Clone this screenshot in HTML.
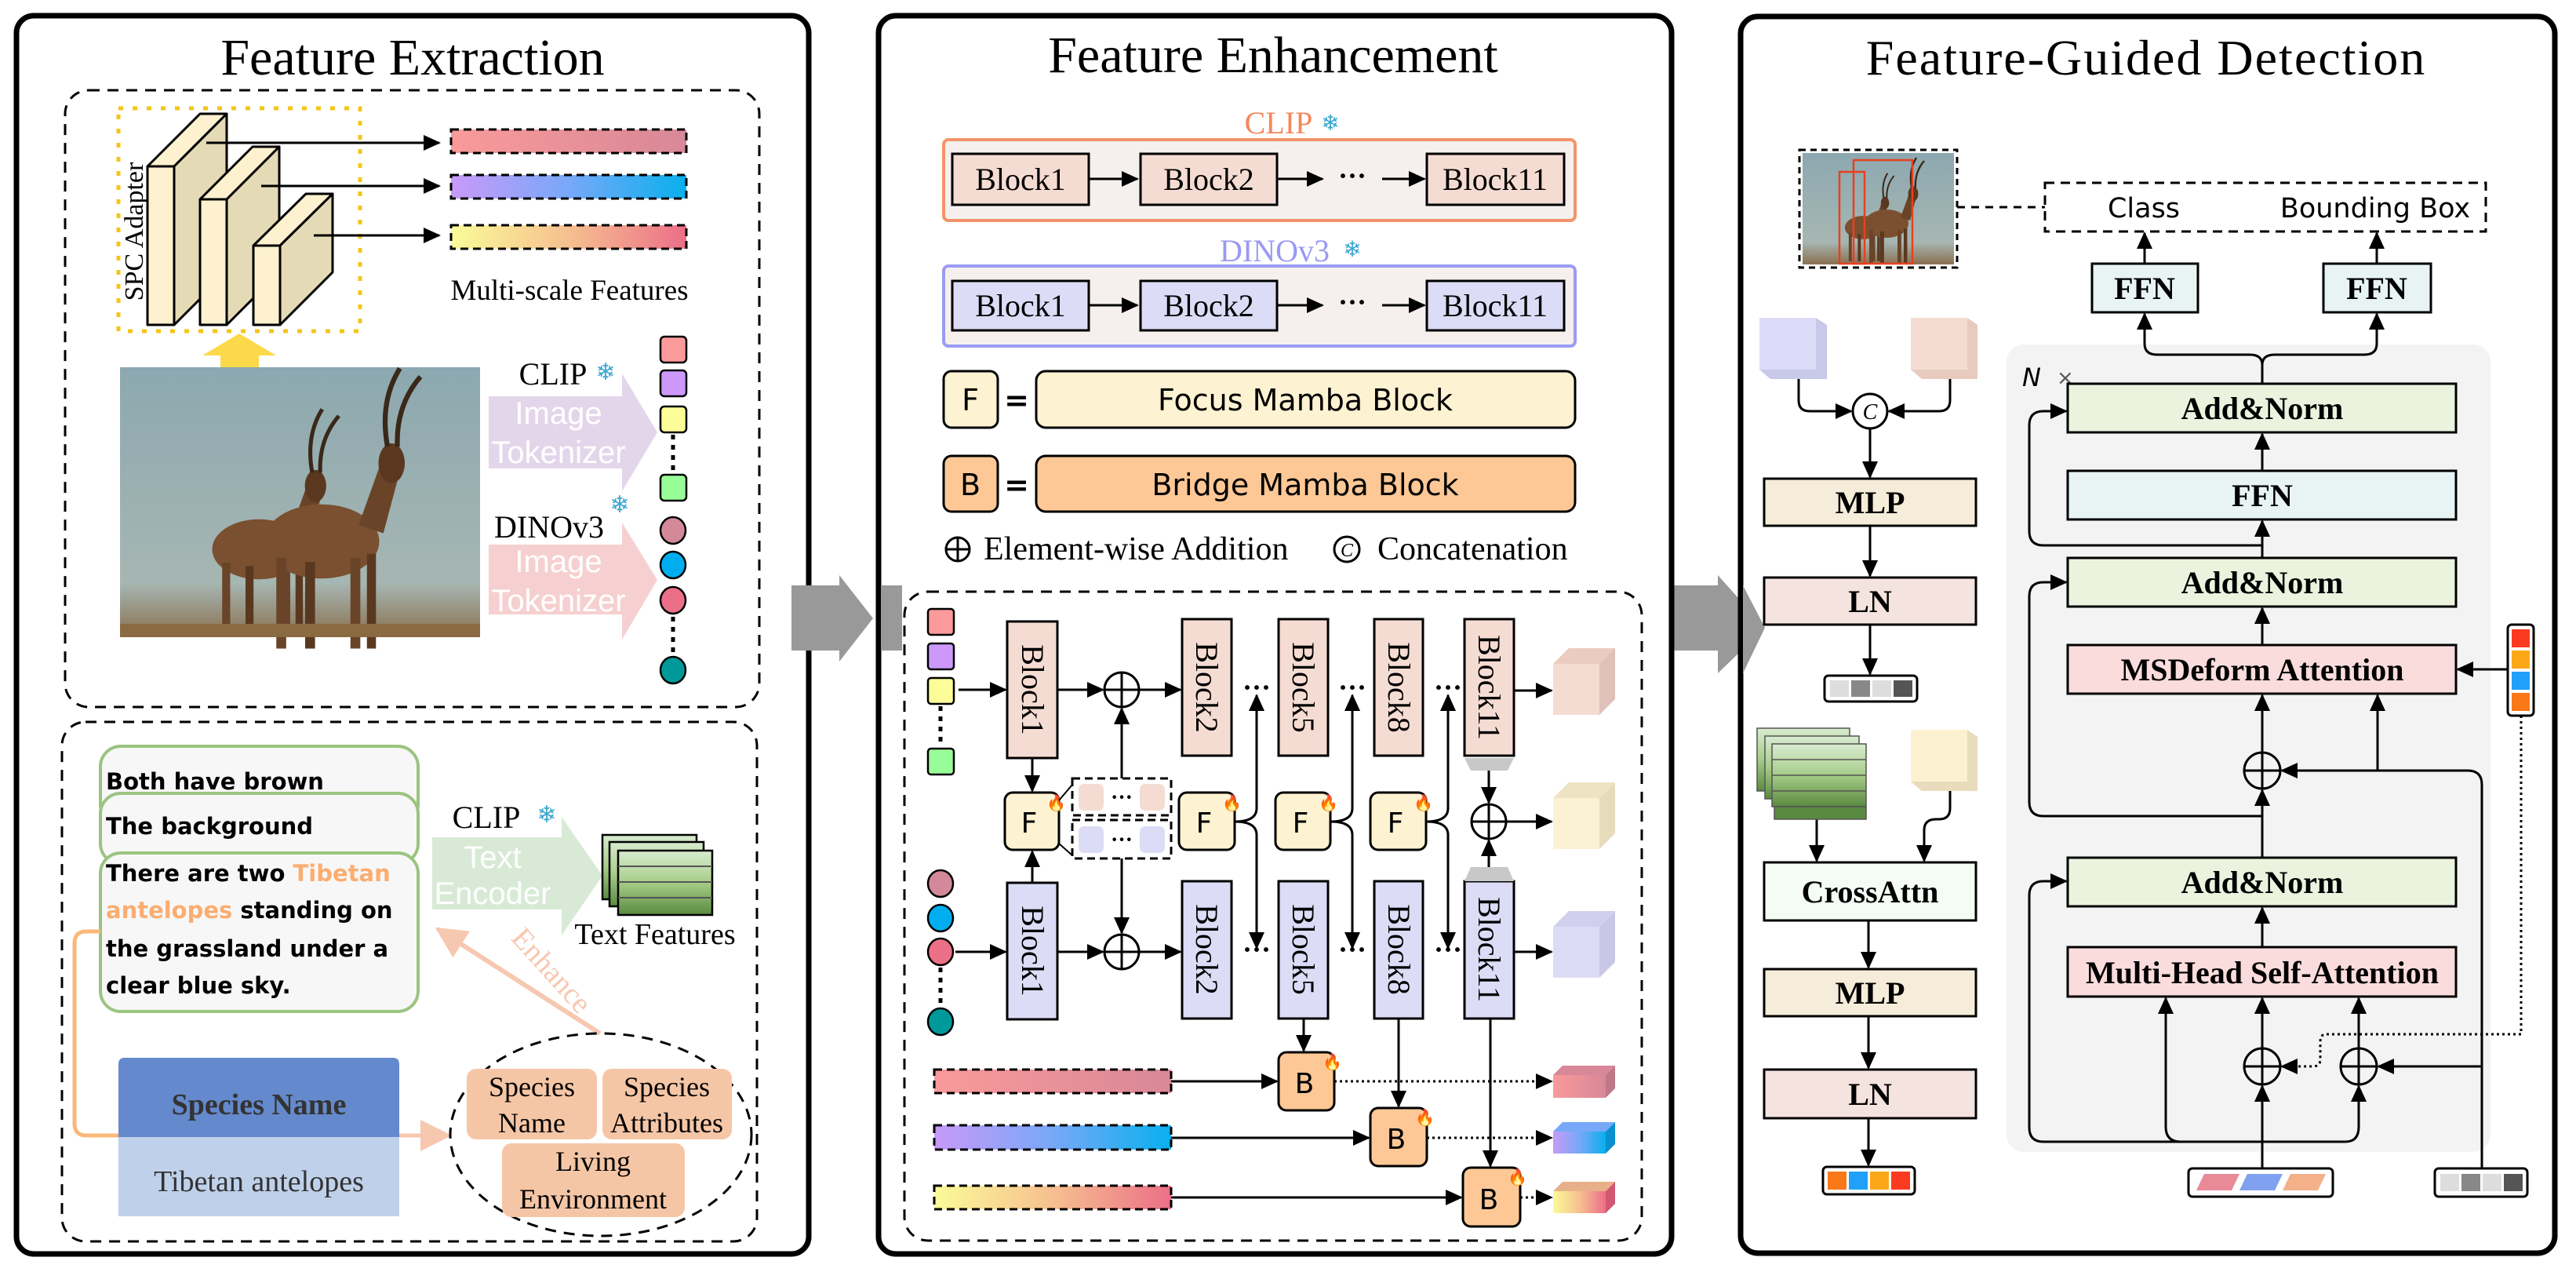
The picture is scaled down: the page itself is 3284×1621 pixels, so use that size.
<!DOCTYPE html>
<html><head><meta charset="utf-8"><style>
html,body{margin:0;padding:0;background:#fff}
svg{display:block}
.s{font-family:"Liberation Serif",serif}
.a{font-family:"Liberation Sans",sans-serif}
.c{font-family:"DejaVu Sans","Liberation Sans",sans-serif}
</style></head><body>
<svg width="3284" height="1621" viewBox="0 0 3284 1621" xmlns="http://www.w3.org/2000/svg">
<defs>
<marker id="ar" markerUnits="userSpaceOnUse" markerWidth="22" markerHeight="20" refX="20" refY="10" orient="auto"><path d="M0,0 L22,10 L0,20 z" fill="#000"/></marker>
<marker id="ao" markerUnits="userSpaceOnUse" markerWidth="40" markerHeight="40" refX="36" refY="20" orient="auto"><path d="M0,0 L40,20 L0,40 z" fill="#f7c8b0"/></marker>
<linearGradient id="g1" x1="0" x2="1"><stop offset="0" stop-color="#f99a9a"/><stop offset="1" stop-color="#d88898"/></linearGradient>
<linearGradient id="g2" x1="0" x2="1"><stop offset="0" stop-color="#c89af8"/><stop offset="0.5" stop-color="#78a8f8"/><stop offset="1" stop-color="#08b0ee"/></linearGradient>
<linearGradient id="g3" x1="0" x2="1"><stop offset="0" stop-color="#fbfb98"/><stop offset="0.5" stop-color="#f6c090"/><stop offset="1" stop-color="#ec6f88"/></linearGradient>
<linearGradient id="sky" x1="0" y1="0" x2="0" y2="1"><stop offset="0" stop-color="#8ca8b0"/><stop offset="0.8" stop-color="#a6b6b2"/><stop offset="1" stop-color="#8a7050"/></linearGradient>
<linearGradient id="gs" x1="0" y1="0" x2="0" y2="1"><stop offset="0" stop-color="#d8ecd0"/><stop offset="0.5" stop-color="#a6cc88"/><stop offset="1" stop-color="#5a8a40"/></linearGradient>
<g id="ant">
<ellipse cx="0" cy="0" rx="70" ry="45" fill="#7a5030"/>
<rect x="-55" y="20" width="12" height="110" fill="#6a4428"/><rect x="-20" y="25" width="12" height="105" fill="#5a3820"/>
<rect x="35" y="20" width="12" height="110" fill="#6a4428"/><rect x="55" y="15" width="11" height="115" fill="#5a3820"/>
<path d="M45,-20 L70,-90 L95,-85 L75,-10 z" fill="#6a4428"/>
<ellipse cx="85" cy="-95" rx="16" ry="24" fill="#5a3820"/>
<path d="M80,-115 Q70,-170 95,-210" stroke="#3a2818" stroke-width="6" fill="none"/>
<path d="M92,-115 Q90,-165 120,-200" stroke="#3a2818" stroke-width="6" fill="none"/>
</g>
</defs>

<!-- ============ PANEL 1 ============ -->
<rect x="21" y="20" width="1010" height="1578" rx="22" fill="#fff" stroke="#000" stroke-width="7"/>
<text x="526" y="95" class="s" font-size="66" text-anchor="middle">Feature Extraction</text>
<rect x="83" y="115" width="885" height="786" rx="30" fill="none" stroke="#000" stroke-width="3" stroke-dasharray="14 10"/>
<rect x="151" y="138" width="308" height="284" fill="none" stroke="#f5c518" stroke-width="5" stroke-dasharray="6 12"/>
<g stroke="#000" stroke-width="3" stroke-linejoin="round">
<polygon points="188,212 255,145 289,145 222,212" fill="#fdf1cf"/><polygon points="222,212 289,145 289,347 222,414" fill="#e5dab6"/><rect x="188" y="212" width="34" height="202" fill="#fdf1cf"/>
<polygon points="255,254 322,187 356,187 289,254" fill="#fdf1cf"/><polygon points="289,254 356,187 356,347 289,414" fill="#e5dab6"/><rect x="255" y="254" width="34" height="160" fill="#fdf1cf"/>
<polygon points="323,313 390,247 424,247 357,313" fill="#fdf1cf"/><polygon points="357,313 424,247 424,347 357,414" fill="#e5dab6"/><rect x="323" y="313" width="34" height="101" fill="#fdf1cf"/>
</g>
<text transform="translate(182,295) rotate(-90)" class="s" font-size="34" text-anchor="middle">SPC Adapter</text>
<g stroke="#000" stroke-width="3" marker-end="url(#ar)">
<line x1="263" y1="182" x2="560" y2="182"/><line x1="333" y1="237" x2="560" y2="237"/><line x1="400" y1="300" x2="560" y2="300"/>
</g>
<rect x="575" y="165" width="300" height="30" fill="url(#g1)" stroke="#000" stroke-width="3" stroke-dasharray="10 6"/>
<rect x="575" y="223" width="300" height="30" fill="url(#g2)" stroke="#000" stroke-width="3" stroke-dasharray="10 6"/>
<rect x="575" y="287" width="300" height="30" fill="url(#g3)" stroke="#000" stroke-width="3" stroke-dasharray="10 6"/>
<text x="726" y="382" class="s" font-size="37" text-anchor="middle">Multi-scale Features</text>
<polygon points="258,453 305,425 352,453 330,453 330,468 281,468 281,453" fill="#fcd94a"/>
<rect x="153" y="468" width="459" height="344" fill="url(#sky)"/>
<use href="#ant" transform="translate(330,700) scale(0.85)"/>
<use href="#ant" transform="translate(410,690) scale(1.05)"/>
<rect x="153" y="795" width="459" height="17" fill="#8a6a40"/>
<polygon points="623,505 793,505 793,476 838,551 793,626 793,597 623,597" fill="#e4d6ea"/>
<polygon points="623,694 793,694 793,666 838,739 793,815 793,783 623,783" fill="#f6d0d0"/>
<text x="712" y="540" class="a" font-size="40" fill="#fff" text-anchor="middle">Image</text>
<text x="712" y="590" class="a" font-size="40" fill="#fff" text-anchor="middle">Tokenizer</text>
<text x="712" y="729" class="a" font-size="40" fill="#fff" text-anchor="middle">Image</text>
<text x="712" y="779" class="a" font-size="40" fill="#fff" text-anchor="middle">Tokenizer</text>
<text x="705" y="490" class="s" font-size="40" text-anchor="middle">CLIP</text>
<text x="772" y="484" font-size="30" fill="#3aa6d0" text-anchor="middle" class="c">❄</text>
<text x="700" y="685" class="s" font-size="40" text-anchor="middle">DINOv3</text>
<text x="790" y="653" font-size="30" fill="#3aa6d0" text-anchor="middle" class="c">❄</text>
<g stroke="#000" stroke-width="2.5">
<rect x="842" y="429" width="33" height="33" rx="5" fill="#fb9a9a"/>
<rect x="842" y="472" width="33" height="33" rx="5" fill="#cc99fb"/>
<rect x="842" y="518" width="33" height="33" rx="5" fill="#fcfc99"/>
<rect x="842" y="605" width="33" height="33" rx="5" fill="#98fc98"/>
<ellipse cx="858" cy="676" rx="16" ry="17" fill="#d4899a"/>
<ellipse cx="858" cy="720" rx="16" ry="17" fill="#00aeef"/>
<ellipse cx="858" cy="765" rx="16" ry="17" fill="#ec6f88"/>
<ellipse cx="858" cy="854" rx="16" ry="17" fill="#00999a"/>
</g>
<line x1="858" y1="554" x2="858" y2="602" stroke="#000" stroke-width="5" stroke-dasharray="6 7"/>
<line x1="858" y1="786" x2="858" y2="835" stroke="#000" stroke-width="5" stroke-dasharray="6 7"/>

<rect x="79" y="920" width="886" height="662" rx="30" fill="none" stroke="#000" stroke-width="3" stroke-dasharray="14 10"/>
<rect x="128" y="951" width="405" height="100" rx="26" fill="#f7f7f7" stroke="#9bc480" stroke-width="4"/>
<rect x="128" y="1011" width="405" height="90" rx="26" fill="#f7f7f7" stroke="#9bc480" stroke-width="4"/>
<rect x="128" y="1087" width="405" height="202" rx="26" fill="#f7f7f7" stroke="#9bc480" stroke-width="4"/>
<g class="c" font-size="29" font-weight="bold">
<text x="135" y="1006">Both have brown</text>
<text x="135" y="1063">The background</text>
<text x="135" y="1123">There are two <tspan fill="#fbad70">Tibetan</tspan></text>
<text x="135" y="1170"><tspan fill="#fbad70">antelopes</tspan> standing on</text>
<text x="135" y="1219">the grassland under a</text>
<text x="135" y="1266">clear blue sky.</text>
</g>
<polygon points="551,1067 716,1067 716,1041 768,1116 716,1192 716,1159 551,1159" fill="#d8ead6"/>
<text x="628" y="1106" class="a" font-size="40" fill="#fff" text-anchor="middle">Text</text>
<text x="628" y="1152" class="a" font-size="40" fill="#fff" text-anchor="middle">Encoder</text>
<text x="620" y="1055" class="s" font-size="40" text-anchor="middle">CLIP</text>
<text x="697" y="1048" font-size="30" fill="#3aa6d0" text-anchor="middle" class="c">❄</text>
<g stroke="#000" stroke-width="2.5">
<rect x="768" y="1064" width="120" height="82" fill="url(#gs)"/>
<rect x="777" y="1073" width="120" height="82" fill="url(#gs)"/>
<rect x="788" y="1084" width="120" height="82" fill="url(#gs)"/>
</g>
<g stroke="#555" stroke-width="2"><line x1="788" y1="1104" x2="908" y2="1104"/><line x1="788" y1="1124" x2="908" y2="1124"/><line x1="788" y1="1144" x2="908" y2="1144"/></g>
<text x="835" y="1203" class="s" font-size="38" text-anchor="middle">Text Features</text>
<line x1="765" y1="1317" x2="558" y2="1184" stroke="#f7c8b0" stroke-width="6" marker-end="url(#ao)"/>
<text transform="translate(694,1245) rotate(48)" class="s" font-size="38" fill="#f7c8b0" text-anchor="middle">Enhance</text>
<path d="M128,1187 H110 Q95,1187 95,1202 V1432 Q95,1447 110,1447 H151" fill="none" stroke="#fbb878" stroke-width="5"/>
<path d="M151,1348 H501 Q509,1348 509,1356 V1449 H151 V1356 Q151,1348 159,1348 z" fill="#6489cc"/>
<rect x="151" y="1449" width="358" height="101" fill="#bfd1ea"/>
<text x="330" y="1420" class="s" font-size="38" font-weight="bold" fill="#333" text-anchor="middle">Species Name</text>
<text x="330" y="1518" class="s" font-size="38" fill="#333" text-anchor="middle">Tibetan antelopes</text>
<line x1="509" y1="1447" x2="572" y2="1447" stroke="#f7c8b0" stroke-width="5" marker-end="url(#ao)"/>
<ellipse cx="766" cy="1446" rx="192" ry="129" fill="none" stroke="#000" stroke-width="3" stroke-dasharray="14 10"/>
<rect x="595" y="1362" width="166" height="90" rx="12" fill="#f5c6a6"/>
<rect x="768" y="1362" width="165" height="90" rx="12" fill="#f5c6a6"/>
<rect x="640" y="1457" width="233" height="94" rx="12" fill="#f5c6a6"/>
<g class="s" font-size="36" text-anchor="middle">
<text x="678" y="1397">Species</text><text x="678" y="1443">Name</text>
<text x="850" y="1397">Species</text><text x="850" y="1443">Attributes</text>
<text x="756" y="1492">Living</text><text x="756" y="1540">Environment</text>
</g>

<polygon points="1009,746 1070,746 1070,733 1113,788 1070,843 1070,829 1009,829" fill="#999"/>
<polygon points="2114,746 2190,746 2190,733 2250,800 2190,858 2190,829 2114,829" fill="#999"/>

<!-- ============ PANEL 2 ============ -->
<rect x="1120" y="20" width="1011" height="1578" rx="22" fill="#fff" stroke="#000" stroke-width="7"/>
<polygon points="1123,746 1150,746 1150,829 1123,829" fill="#999"/>
<text x="1623" y="92" class="s" font-size="66" text-anchor="middle">Feature Enhancement</text>
<text x="1630" y="170" class="s" font-size="40" fill="#f4875b" text-anchor="middle">CLIP</text>
<text x="1696" y="166" font-size="28" fill="#3aa6d0" text-anchor="middle" class="c">❄</text>
<rect x="1203" y="178" width="805" height="103" rx="6" fill="#f5f0ed" stroke="#f4936a" stroke-width="4"/>
<text x="1625" y="333" class="s" font-size="40" fill="#9999f4" text-anchor="middle">DINOv3</text>
<text x="1724" y="327" font-size="28" fill="#3aa6d0" text-anchor="middle" class="c">❄</text>
<rect x="1203" y="339" width="805" height="102" rx="6" fill="#f5f0ed" stroke="#9b9bf4" stroke-width="4"/>
<g stroke="#000" stroke-width="3">
<rect x="1214" y="196" width="174" height="65" fill="#f5dcd2"/><rect x="1454" y="196" width="174" height="65" fill="#f5dcd2"/><rect x="1819" y="196" width="175" height="65" fill="#f5dcd2"/>
<rect x="1214" y="358" width="174" height="63" fill="#dcdcf6"/><rect x="1454" y="358" width="174" height="63" fill="#dcdcf6"/><rect x="1819" y="358" width="175" height="63" fill="#dcdcf6"/>
</g>
<g class="s" font-size="40" text-anchor="middle">
<text x="1301" y="242">Block1</text><text x="1541" y="242">Block2</text><text x="1906" y="242">Block11</text>
<text x="1301" y="403">Block1</text><text x="1541" y="403">Block2</text><text x="1906" y="403">Block11</text>
</g>
<g stroke="#000" stroke-width="3" marker-end="url(#ar)">
<line x1="1388" y1="228" x2="1450" y2="228"/><line x1="1628" y1="228" x2="1686" y2="228"/><line x1="1762" y1="228" x2="1816" y2="228"/>
<line x1="1388" y1="389" x2="1450" y2="389"/><line x1="1628" y1="389" x2="1686" y2="389"/><line x1="1762" y1="389" x2="1816" y2="389"/>
</g>
<text x="1724" y="236" font-size="36" font-weight="bold" text-anchor="middle" class="s">···</text>
<text x="1724" y="397" font-size="36" font-weight="bold" text-anchor="middle" class="s">···</text>
<g stroke="#000" stroke-width="3">
<rect x="1203" y="473" width="69" height="72" rx="10" fill="#fdf2d2"/><rect x="1321" y="473" width="687" height="72" rx="12" fill="#fdf2d2"/>
<rect x="1203" y="581" width="69" height="71" rx="10" fill="#fdc896"/><rect x="1321" y="581" width="687" height="71" rx="12" fill="#fdc896"/>
</g>
<g class="c" font-size="38" text-anchor="middle">
<text x="1237" y="523">F</text><text x="1296" y="523" font-weight="bold">=</text><text x="1664" y="523">Focus Mamba Block</text>
<text x="1237" y="631">B</text><text x="1296" y="631" font-weight="bold">=</text><text x="1664" y="631">Bridge Mamba Block</text>
</g>
<circle cx="1221" cy="700" r="15" fill="none" stroke="#000" stroke-width="3"/><line x1="1206" y1="700" x2="1236" y2="700" stroke="#000" stroke-width="3"/><line x1="1221" y1="685" x2="1221" y2="715" stroke="#000" stroke-width="3"/>
<text x="1254" y="713" class="s" font-size="42">Element-wise Addition</text>
<circle cx="1717" cy="700" r="16" fill="none" stroke="#000" stroke-width="3"/><text x="1717" y="709" class="s" font-size="24" font-style="italic" text-anchor="middle">C</text>
<text x="1756" y="713" class="s" font-size="42">Concatenation</text>

<rect x="1153" y="754" width="940" height="827" rx="30" fill="none" stroke="#000" stroke-width="3" stroke-dasharray="14 10"/>
<g stroke="#000" stroke-width="2.5">
<rect x="1183" y="776" width="33" height="33" rx="4" fill="#fb9a9a"/><rect x="1183" y="820" width="33" height="33" rx="4" fill="#cc99fb"/><rect x="1183" y="864" width="33" height="33" rx="4" fill="#fcfc99"/><rect x="1183" y="954" width="33" height="33" rx="4" fill="#98fc98"/>
<ellipse cx="1199" cy="1126" rx="16" ry="17" fill="#d4899a"/><ellipse cx="1199" cy="1170" rx="16" ry="17" fill="#00aeef"/><ellipse cx="1199" cy="1213" rx="16" ry="17" fill="#ec6f88"/><ellipse cx="1199" cy="1302" rx="16" ry="17" fill="#00999a"/>
</g>
<line x1="1199" y1="900" x2="1199" y2="950" stroke="#000" stroke-width="5" stroke-dasharray="6 7"/>
<line x1="1199" y1="1233" x2="1199" y2="1282" stroke="#000" stroke-width="5" stroke-dasharray="6 7"/>
<g stroke="#000" stroke-width="3">
<rect x="1284" y="792" width="64" height="174" fill="#f5dcd2"/><rect x="1507" y="789" width="63" height="174" fill="#f5dcd2"/><rect x="1630" y="789" width="63" height="174" fill="#f5dcd2"/><rect x="1752" y="789" width="62" height="174" fill="#f5dcd2"/><rect x="1867" y="789" width="63" height="174" fill="#f5dcd2"/>
<rect x="1284" y="1125" width="64" height="174" fill="#dcdcf6"/><rect x="1507" y="1123" width="63" height="175" fill="#dcdcf6"/><rect x="1630" y="1123" width="63" height="175" fill="#dcdcf6"/><rect x="1752" y="1123" width="62" height="175" fill="#dcdcf6"/><rect x="1867" y="1123" width="63" height="175" fill="#dcdcf6"/>
</g>
<g class="s" font-size="40" text-anchor="middle">
<text transform="translate(1303,879) rotate(90)">Block1</text><text transform="translate(1525,876) rotate(90)">Block2</text><text transform="translate(1648,876) rotate(90)">Block5</text><text transform="translate(1770,876) rotate(90)">Block8</text><text transform="translate(1885,876) rotate(90)">Block11</text>
<text transform="translate(1303,1212) rotate(90)">Block1</text><text transform="translate(1525,1210) rotate(90)">Block2</text><text transform="translate(1648,1210) rotate(90)">Block5</text><text transform="translate(1770,1210) rotate(90)">Block8</text><text transform="translate(1885,1210) rotate(90)">Block11</text>
</g>
<polygon points="1867,966 1930,966 1922,982 1875,982" fill="#c8c8c8"/>
<polygon points="1875,1105 1922,1105 1930,1123 1867,1123" fill="#c8c8c8"/>
<g stroke="#000" stroke-width="3" fill="none">
<circle cx="1430" cy="879" r="22"/><line x1="1408" y1="879" x2="1452" y2="879"/><line x1="1430" y1="857" x2="1430" y2="901"/>
<circle cx="1430" cy="1213" r="22"/><line x1="1408" y1="1213" x2="1452" y2="1213"/><line x1="1430" y1="1191" x2="1430" y2="1235"/>
<circle cx="1898" cy="1047" r="22"/><line x1="1876" y1="1047" x2="1920" y2="1047"/><line x1="1898" y1="1025" x2="1898" y2="1069"/>
</g>
<g stroke="#000" stroke-width="3" fill="none" marker-end="url(#ar)">
<line x1="1222" y1="879" x2="1282" y2="879"/><line x1="1348" y1="879" x2="1406" y2="879"/><line x1="1452" y1="879" x2="1505" y2="879"/>
<line x1="1218" y1="1213" x2="1282" y2="1213"/><line x1="1348" y1="1213" x2="1406" y2="1213"/><line x1="1452" y1="1213" x2="1505" y2="1213"/>
<line x1="1316" y1="966" x2="1316" y2="1008"/><line x1="1316" y1="1125" x2="1316" y2="1085"/>
<line x1="1430" y1="992" x2="1430" y2="903"/><line x1="1430" y1="1094" x2="1430" y2="1189"/>
<line x1="1930" y1="880" x2="1978" y2="880"/><line x1="1930" y1="1213" x2="1978" y2="1213"/><line x1="1920" y1="1047" x2="1978" y2="1047"/>
<line x1="1898" y1="982" x2="1898" y2="1023"/><line x1="1898" y1="1105" x2="1898" y2="1071"/>
<path d="M1574,1047 Q1602,1047 1602,1030 V886"/><path d="M1574,1047 Q1602,1047 1602,1064 V1208"/>
<path d="M1696,1047 Q1724,1047 1724,1030 V886"/><path d="M1696,1047 Q1724,1047 1724,1064 V1208"/>
<path d="M1818,1047 Q1846,1047 1846,1030 V886"/><path d="M1818,1047 Q1846,1047 1846,1064 V1208"/>
<line x1="1662" y1="1299" x2="1662" y2="1339"/><line x1="1783" y1="1298" x2="1783" y2="1410"/><line x1="1900" y1="1298" x2="1900" y2="1486"/>
<line x1="1493" y1="1378" x2="1628" y2="1378"/><line x1="1493" y1="1450" x2="1745" y2="1450"/><line x1="1493" y1="1526" x2="1863" y2="1526"/>
</g>
<g stroke="#000" stroke-width="3" stroke-dasharray="3 4" fill="none" marker-end="url(#ar)">
<line x1="1701" y1="1378" x2="1978" y2="1378"/><line x1="1819" y1="1450" x2="1978" y2="1450"/><line x1="1938" y1="1526" x2="1978" y2="1526"/>
</g>
<g font-size="36" font-weight="bold" class="s" text-anchor="middle">
<text x="1602" y="888">···</text><text x="1724" y="888">···</text><text x="1846" y="888">···</text>
<text x="1602" y="1222">···</text><text x="1724" y="1222">···</text><text x="1846" y="1222">···</text>
</g>
<g stroke="#000" stroke-width="3">
<rect x="1281" y="1010" width="69" height="73" rx="10" fill="#fdf2d2"/><rect x="1503" y="1010" width="71" height="73" rx="10" fill="#fdf2d2"/><rect x="1626" y="1010" width="70" height="73" rx="10" fill="#fdf2d2"/><rect x="1747" y="1010" width="71" height="73" rx="10" fill="#fdf2d2"/>
<rect x="1630" y="1341" width="71" height="74" rx="10" fill="#fdc896"/><rect x="1747" y="1412" width="72" height="74" rx="10" fill="#fdc896"/><rect x="1865" y="1488" width="73" height="75" rx="10" fill="#fdc896"/>
</g>
<g class="c" font-size="36" text-anchor="middle">
<text x="1312" y="1061">F</text><text x="1535" y="1061">F</text><text x="1658" y="1061">F</text><text x="1779" y="1061">F</text>
<text x="1663" y="1393">B</text><text x="1780" y="1464">B</text><text x="1898" y="1541">B</text>
</g>
<g font-size="20" class="c" fill="#f05a1a">
<text x="1334" y="1030">🔥</text><text x="1558" y="1030">🔥</text><text x="1681" y="1030">🔥</text><text x="1802" y="1030">🔥</text>
<text x="1686" y="1360">🔥</text><text x="1804" y="1431">🔥</text><text x="1922" y="1507">🔥</text>
</g>
<rect x="1367" y="992" width="126" height="47" fill="#fff" stroke="#000" stroke-width="3" stroke-dasharray="10 6"/>
<rect x="1367" y="1045" width="126" height="49" fill="#fff" stroke="#000" stroke-width="3" stroke-dasharray="10 6"/>
<line x1="1350" y1="1020" x2="1367" y2="1000" stroke="#000" stroke-width="2"/><line x1="1350" y1="1075" x2="1367" y2="1090" stroke="#000" stroke-width="2"/>
<rect x="1375" y="999" width="32" height="34" rx="7" fill="#f5dcd2"/><rect x="1453" y="999" width="32" height="34" rx="7" fill="#f5dcd2"/>
<rect x="1375" y="1053" width="32" height="34" rx="7" fill="#dcdcf6"/><rect x="1453" y="1053" width="32" height="34" rx="7" fill="#dcdcf6"/>
<text x="1430" y="1025" font-size="28" font-weight="bold" text-anchor="middle" class="s">···</text>
<text x="1430" y="1079" font-size="28" font-weight="bold" text-anchor="middle" class="s">···</text>
<g>
<polygon points="1980,846 2000,826 2059,826 2039,846" fill="#ecccc0"/><rect x="1980" y="846" width="59" height="65" fill="#f5dcd2"/><polygon points="2039,846 2059,826 2059,891 2039,911" fill="#e0c0b8"/>
<polygon points="1980,1017 2000,997 2059,997 2039,1017" fill="#eee4c4"/><rect x="1980" y="1017" width="59" height="65" fill="#fbf2d4"/><polygon points="2039,1017 2059,997 2059,1062 2039,1082" fill="#e6dcbc"/>
<polygon points="1980,1181 2000,1161 2059,1161 2039,1181" fill="#d0d0ee"/><rect x="1980" y="1181" width="59" height="65" fill="#dcdcf6"/><polygon points="2039,1181 2059,1161 2059,1226 2039,1246" fill="#c8c8e6"/>
<polygon points="1980,1370 1992,1358 2059,1358 2047,1370" fill="#d88898"/><rect x="1980" y="1370" width="67" height="29" fill="url(#g1)"/><polygon points="2047,1370 2059,1358 2059,1387 2047,1399" fill="#c07888"/>
<polygon points="1980,1442 1992,1430 2059,1430 2047,1442" fill="#78a8f8"/><rect x="1980" y="1442" width="67" height="28" fill="url(#g2)"/><polygon points="2047,1442 2059,1430 2059,1458 2047,1470" fill="#0890d0"/>
<polygon points="1980,1518 1992,1506 2059,1506 2047,1518" fill="#e8b088"/><rect x="1980" y="1518" width="67" height="28" fill="url(#g3)"/><polygon points="2047,1518 2059,1506 2059,1534 2047,1546" fill="#d05870"/>
</g>
<rect x="1191" y="1363" width="302" height="30" fill="url(#g1)" stroke="#000" stroke-width="3" stroke-dasharray="10 6"/>
<rect x="1191" y="1434" width="302" height="31" fill="url(#g2)" stroke="#000" stroke-width="3" stroke-dasharray="10 6"/>
<rect x="1191" y="1511" width="302" height="30" fill="url(#g3)" stroke="#000" stroke-width="3" stroke-dasharray="10 6"/>

<!-- ============ PANEL 3 ============ -->
<rect x="2219" y="21" width="1038" height="1576" rx="22" fill="#fff" stroke="#000" stroke-width="7"/>
<polygon points="2222,746 2250,800 2222,858" fill="#999"/>
<text x="2736" y="95" class="s" font-size="64" text-anchor="middle" letter-spacing="2">Feature-Guided Detection</text>
<rect x="2294" y="191" width="201" height="150" fill="none" stroke="#000" stroke-width="3" stroke-dasharray="8 6"/>
<rect x="2298" y="195" width="193" height="142" fill="url(#sky)"/>
<use href="#ant" transform="translate(2375,290) scale(0.33)"/>
<use href="#ant" transform="translate(2405,285) scale(0.4)"/>
<rect x="2345" y="219" width="32" height="117" fill="none" stroke="#e84020" stroke-width="2.5"/>
<rect x="2363" y="204" width="75" height="132" fill="none" stroke="#e84020" stroke-width="2.5"/>
<line x1="2495" y1="264" x2="2607" y2="264" stroke="#000" stroke-width="3" stroke-dasharray="10 8"/>
<rect x="2607" y="233" width="562" height="62" fill="none" stroke="#000" stroke-width="3" stroke-dasharray="12 8"/>
<text x="2733" y="277" class="c" font-size="35" text-anchor="middle">Class</text>
<text x="3028" y="277" class="c" font-size="35" text-anchor="middle">Bounding Box</text>
<rect x="2558" y="439" width="617" height="1029" rx="22" fill="#f3f3f3"/>
<text x="2578" y="492" class="c" font-size="32" font-style="italic">N</text><text x="2622" y="490" class="c" font-size="26" fill="#555">×</text>
<g stroke="#000" stroke-width="3">
<rect x="2667" y="336" width="135" height="62" fill="#e8f4f4"/><rect x="2962" y="336" width="137" height="62" fill="#e8f4f4"/>
<rect x="2636" y="489" width="495" height="62" fill="#ebf3df"/>
<rect x="2636" y="600" width="495" height="62" fill="#e8f4f4"/>
<rect x="2636" y="711" width="495" height="62" fill="#ebf3df"/>
<rect x="2636" y="822" width="495" height="62" fill="#fadcdc"/>
<rect x="2636" y="1093" width="495" height="62" fill="#ebf3df"/>
<rect x="2636" y="1207" width="495" height="63" fill="#fadcdc"/>
<rect x="2249" y="610" width="270" height="60" fill="#f5edd9"/>
<rect x="2249" y="736" width="270" height="60" fill="#f5e3df"/>
<rect x="2249" y="1099" width="270" height="74" fill="#f5fcf5"/>
<rect x="2249" y="1235" width="270" height="60" fill="#f5edd9"/>
<rect x="2249" y="1363" width="270" height="62" fill="#f5e3df"/>
</g>
<g class="s" font-size="40" font-weight="bold" text-anchor="middle">
<text x="2734" y="381">FFN</text><text x="3030" y="381">FFN</text>
<text x="2884" y="534">Add&amp;Norm</text><text x="2884" y="645">FFN</text><text x="2884" y="756">Add&amp;Norm</text>
<text x="2884" y="867">MSDeform Attention</text><text x="2884" y="1138">Add&amp;Norm</text><text x="2884" y="1253">Multi-Head Self-Attention</text>
<text x="2384" y="654">MLP</text><text x="2384" y="780">LN</text><text x="2384" y="1150">CrossAttn</text><text x="2384" y="1279">MLP</text><text x="2384" y="1408">LN</text>
</g>
<g stroke="#000" stroke-width="3" fill="none">
<circle cx="2884" cy="982" r="23"/><line x1="2861" y1="982" x2="2907" y2="982"/><line x1="2884" y1="959" x2="2884" y2="1005"/>
<circle cx="2884" cy="1359" r="23"/><line x1="2861" y1="1359" x2="2907" y2="1359"/><line x1="2884" y1="1336" x2="2884" y2="1382"/>
<circle cx="3007" cy="1359" r="23"/><line x1="2984" y1="1359" x2="3030" y2="1359"/><line x1="3007" y1="1336" x2="3007" y2="1382"/>
<circle cx="2384" cy="524" r="22"/>
</g>
<text x="2384" y="534" class="s" font-size="28" font-style="italic" text-anchor="middle">C</text>
<g stroke="#000" stroke-width="3" fill="none" marker-end="url(#ar)">
<line x1="2734" y1="336" x2="2734" y2="297"/><line x1="3030" y1="336" x2="3030" y2="297"/>
<path d="M2884,489 V465 Q2884,452 2868,452 H2750 Q2734,452 2734,438 V400"/>
<path d="M2884,489 V465 Q2884,452 2900,452 H3014 Q3030,452 3030,438 V400"/>
<line x1="2884" y1="600" x2="2884" y2="553"/><line x1="2884" y1="711" x2="2884" y2="664"/><line x1="2884" y1="822" x2="2884" y2="775"/>
<line x1="2884" y1="959" x2="2884" y2="886"/><line x1="3031" y1="982" x2="3031" y2="886"/>
<line x1="2884" y1="1093" x2="2884" y2="1007"/><line x1="2884" y1="1207" x2="2884" y2="1157"/>
<line x1="2884" y1="1336" x2="2884" y2="1272"/><line x1="3007" y1="1336" x2="3007" y2="1272"/>
<line x1="2884" y1="1489" x2="2884" y2="1384"/>
<path d="M2884,1455 H2780 Q2761,1455 2761,1436 V1272"/>
<path d="M2884,1455 H2990 Q3007,1455 3007,1436 V1384"/>
<path d="M2884,695 H2605 Q2587,695 2587,677 V542 Q2587,524 2605,524 H2634"/>
<path d="M2884,1040 H2605 Q2587,1040 2587,1022 V760 Q2587,742 2605,742 H2634"/>
<path d="M2884,1455 H2605 Q2587,1455 2587,1437 V1141 Q2587,1123 2605,1123 H2634"/>
<path d="M3164,1489 V1000 Q3164,982 3146,982 H2909"/>
<line x1="3164" y1="1359" x2="3032" y2="1359"/>
<line x1="3197" y1="853" x2="3133" y2="853"/>
<path d="M2293,483 V510 Q2293,524 2307,524 H2360"/>
<path d="M2486,483 V510 Q2486,524 2472,524 H2408"/>
<line x1="2384" y1="546" x2="2384" y2="608"/><line x1="2384" y1="670" x2="2384" y2="734"/><line x1="2384" y1="796" x2="2384" y2="859"/>
<line x1="2316" y1="1044" x2="2316" y2="1097"/>
<path d="M2486,1008 V1030 Q2486,1044 2472,1044 H2468 Q2453,1044 2453,1058 V1097"/>
<line x1="2382" y1="1173" x2="2382" y2="1233"/><line x1="2382" y1="1295" x2="2382" y2="1361"/><line x1="2382" y1="1425" x2="2382" y2="1485"/>
</g>
<path d="M3214,912 V1318 H2965 Q2958,1318 2958,1328 V1350 Q2958,1359 2948,1359 H2909" fill="none" stroke="#000" stroke-width="3" stroke-dasharray="3 4" marker-end="url(#ar)"/>
<rect x="3197" y="796" width="33" height="116" rx="5" fill="#fff" stroke="#000" stroke-width="3"/>
<rect x="3202" y="802" width="23" height="23" fill="#fb3a20"/><rect x="3202" y="829" width="23" height="23" fill="#fba818"/><rect x="3202" y="856" width="23" height="23" fill="#20a0f8"/><rect x="3202" y="883" width="23" height="23" fill="#fb7818"/>
<rect x="2790" y="1489" width="184" height="36" rx="5" fill="#fff" stroke="#000" stroke-width="3"/>
<polygon points="2800,1517 2810,1496 2855,1496 2845,1517" fill="#e88a98"/><polygon points="2855,1517 2865,1496 2910,1496 2900,1517" fill="#80a0f0"/><polygon points="2910,1517 2920,1496 2965,1496 2955,1517" fill="#f4b088"/>
<rect x="3104" y="1489" width="118" height="36" rx="5" fill="#fff" stroke="#000" stroke-width="3"/>
<rect x="3111" y="1496" width="24" height="22" fill="#ddd"/><rect x="3138" y="1496" width="24" height="22" fill="#888"/><rect x="3165" y="1496" width="24" height="22" fill="#ddd"/><rect x="3192" y="1496" width="24" height="22" fill="#555"/>
<rect x="2326" y="861" width="118" height="33" rx="5" fill="#fff" stroke="#000" stroke-width="3"/>
<rect x="2333" y="867" width="24" height="21" fill="#ddd"/><rect x="2360" y="867" width="24" height="21" fill="#888"/><rect x="2387" y="867" width="24" height="21" fill="#ddd"/><rect x="2414" y="867" width="24" height="21" fill="#555"/>
<rect x="2324" y="1487" width="117" height="35" rx="5" fill="#fff" stroke="#000" stroke-width="3"/>
<rect x="2330" y="1493" width="24" height="23" fill="#fb7818"/><rect x="2357" y="1493" width="24" height="23" fill="#20a0f8"/><rect x="2384" y="1493" width="24" height="23" fill="#fba818"/><rect x="2411" y="1493" width="24" height="23" fill="#fb3a20"/>
<rect x="2243" y="405" width="72" height="66" fill="#dcdcf8"/><polygon points="2315,405 2329,414 2329,483 2315,471" fill="#c8c8e8"/><polygon points="2243,471 2315,471 2329,483 2257,483" fill="#c8c8e8"/>
<rect x="2436" y="405" width="72" height="66" fill="#f5dcd2"/><polygon points="2508,405 2521,414 2521,483 2508,471" fill="#e8cabe"/><polygon points="2436,471 2508,471 2521,483 2450,483" fill="#e8cabe"/>
<rect x="2436" y="930" width="72" height="66" fill="#fcf2d2"/><polygon points="2508,930 2521,939 2521,1008 2508,996" fill="#e8dcbc"/><polygon points="2436,996 2508,996 2521,1008 2450,1008" fill="#e8dcbc"/>
<g stroke="#555" stroke-width="1.5">
<rect x="2240" y="928" width="118" height="80" fill="url(#gs)"/>
<rect x="2250" y="938" width="120" height="80" fill="url(#gs)"/>
<rect x="2259" y="948" width="120" height="80" fill="url(#gs)"/>
<rect x="2262" y="1028" width="117" height="16" fill="#5a8a40"/>
<line x1="2259" y1="968" x2="2379" y2="968"/><line x1="2259" y1="988" x2="2379" y2="988"/><line x1="2259" y1="1008" x2="2379" y2="1008"/>
</g>
</svg>
</body></html>
